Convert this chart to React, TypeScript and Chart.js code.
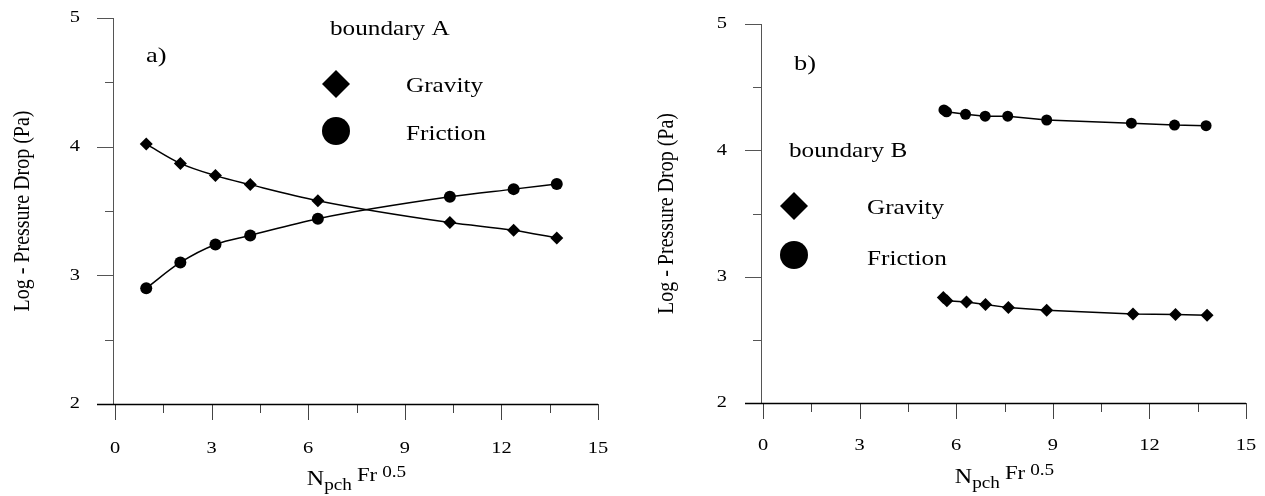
import React, { useEffect, useRef } from "react";
import { Chart, registerables } from "chart.js";

Chart.register(...registerables);

// ---- data ----
const xTickLabels = [0, 3, 6, 9, 12, 15];
const yTickLabels = [2, 3, 4, 5];

const aX = [0.97, 2.03, 3.12, 4.2, 6.3, 10.4, 12.38, 13.72];
const aGravity = [4.02, 3.87, 3.775, 3.705, 3.58, 3.41, 3.35, 3.29];
const aFriction = [2.9, 3.1, 3.24, 3.31, 3.44, 3.61, 3.67, 3.71];

const bFrictionX = [5.62, 5.7, 6.29, 6.9, 7.6, 8.81, 11.44, 12.78, 13.76];
const bFriction = [4.32, 4.305, 4.285, 4.27, 4.27, 4.24, 4.215, 4.2, 4.195];
const bGravityX = [5.6, 5.71, 6.32, 6.91, 7.62, 8.81, 11.49, 12.81, 13.79];
const bGravity = [2.835, 2.81, 2.8, 2.78, 2.755, 2.735, 2.705, 2.7, 2.695];

const yTitle = "Log - Pressure Drop (Pa)";

const FONT = '"Liberation Serif", "Times New Roman", serif';
const SX = 1.2; // horizontal text stretch seen in the reference

function pts(xs: number[], ys: number[]) {
  return xs.map((x, i) => ({ x, y: ys[i] }));
}

function textWidth(ctx: CanvasRenderingContext2D, text: string, size: number) {
  ctx.save();
  ctx.font = `${size}px ${FONT}`;
  const w = ctx.measureText(text).width * SX;
  ctx.restore();
  return w;
}

function drawText(
  ctx: CanvasRenderingContext2D,
  text: string,
  x: number,
  y: number,
  size: number,
  align: "left" | "center" | "right" = "left",
  baseline: CanvasTextBaseline = "alphabetic"
) {
  const w = textWidth(ctx, text, size);
  const x0 = align === "left" ? x : align === "center" ? x - w / 2 : x - w;
  ctx.save();
  ctx.font = `${size}px ${FONT}`;
  ctx.fillStyle = "#000";
  ctx.textAlign = "left";
  ctx.textBaseline = baseline;
  ctx.translate(x0, y);
  ctx.scale(SX, 1);
  ctx.fillText(text, 0, 0);
  ctx.restore();
  return w;
}

type Ann = {
  panel: string; panelX: number; panelY: number;
  title: string; titleX: number; titleY: number;
  symX: number; gravY: number; fricY: number; labX: number; gravTY: number; fricTY: number;
  titleBase: number; yLabGap: number; xLabDy: number; yTitleX: number;
};

function isMult(v: number, step: number) {
  const q = v / step;
  return Math.abs(q - Math.round(q)) < 1e-6;
}

function makePlugin(ann: Ann) {
  return {
    id: "decor",
    beforeDatasetsDraw(chart: any) {
      const { ctx, chartArea, scales } = chart;
      const { left, right, top, bottom } = chartArea;
      const x = scales.x, y = scales.y;
      const ax = left - 2;
      ctx.save();
      ctx.lineWidth = 1;
      ctx.strokeStyle = "#555";
      ctx.beginPath();
      ctx.moveTo(ax + 0.5, top);
      ctx.lineTo(ax + 0.5, bottom);
      ctx.stroke();
      y.ticks.forEach((t: any) => {
        const py = Math.round(y.getPixelForValue(t.value)) + 0.5;
        const len = isMult(t.value, 1) ? 16 : 8;
        ctx.beginPath();
        ctx.moveTo(ax - len, py);
        ctx.lineTo(ax + 0.5, py);
        ctx.stroke();
      });
      ctx.strokeStyle = "#444";
      x.ticks.forEach((t: any) => {
        const px = Math.round(x.getPixelForValue(t.value)) + 0.5;
        const len = isMult(t.value, 3) ? 16 : 9;
        ctx.beginPath();
        ctx.moveTo(px, bottom);
        ctx.lineTo(px, bottom + len);
        ctx.stroke();
      });
      ctx.strokeStyle = "#000";
      ctx.lineWidth = 1.3;
      ctx.beginPath();
      ctx.moveTo(ax - 16, Math.round(bottom) + 0.5);
      ctx.lineTo(right, Math.round(bottom) + 0.5);
      ctx.stroke();
      ctx.restore();

      // tick labels
      yTickLabels.forEach((v) => {
        drawText(ctx, String(v), ax - ann.yLabGap, y.getPixelForValue(v), 17, "right", "middle");
      });
      xTickLabels.forEach((v) => {
        drawText(ctx, String(v), x.getPixelForValue(v), bottom + ann.xLabDy, 17, "center", "middle");
      });

      // y axis title (rotated, stretched across its thickness)
      ctx.save();
      ctx.font = `20px ${FONT}`;
      ctx.fillStyle = "#000";
      ctx.textAlign = "center";
      ctx.textBaseline = "middle";
      ctx.translate(ann.yTitleX, (top + bottom) / 2);
      ctx.rotate(-Math.PI / 2);
      ctx.scale(1, SX);
      ctx.fillText(yTitle, 0, 0);
      ctx.restore();
    },
    afterDraw(chart: any) {
      const { ctx, chartArea } = chart;
      const { left, right, bottom } = chartArea;
      drawText(ctx, ann.panel, ann.panelX, ann.panelY, 22);
      drawText(ctx, ann.title, ann.titleX, ann.titleY, 21);
      // legend symbols
      ctx.save();
      ctx.fillStyle = "#000";
      ctx.beginPath();
      ctx.moveTo(ann.symX, ann.gravY - 14);
      ctx.lineTo(ann.symX + 14, ann.gravY);
      ctx.lineTo(ann.symX, ann.gravY + 14);
      ctx.lineTo(ann.symX - 14, ann.gravY);
      ctx.closePath();
      ctx.fill();
      ctx.beginPath();
      ctx.arc(ann.symX, ann.fricY, 14, 0, Math.PI * 2);
      ctx.fill();
      ctx.restore();
      drawText(ctx, "Gravity", ann.labX, ann.gravTY, 21);
      drawText(ctx, "Friction", ann.labX, ann.fricTY, 21);
      // x axis title: N_pch Fr^0.5
      const parts = [
        { t: "N", s: 20, dy: 0, gap: 0 },
        { t: "pch", s: 16, dy: 5, gap: 0 },
        { t: "Fr", s: 19, dy: -4, gap: 5 },
        { t: "0.5", s: 16, dy: -8, gap: 5 },
      ];
      let total = 0;
      parts.forEach((p) => (total += p.gap + textWidth(ctx, p.t, p.s)));
      let cx = (left + right) / 2 - total / 2;
      const base = bottom + ann.titleBase;
      parts.forEach((p) => {
        cx += p.gap;
        cx += drawText(ctx, p.t, cx, base + p.dy, p.s);
      });
    },
  };
}

function makeConfig(datasets: any[], ann: Ann, layout: { padTop: number; padRight: number; yWidth: number; xHeight: number }) {
  return {
    type: "line",
    data: { datasets },
    options: {
      animation: false,
      responsive: false,
      layout: { padding: { left: 0, top: layout.padTop, right: layout.padRight, bottom: 0 } },
      plugins: { legend: { display: false }, tooltip: { enabled: false } },
      scales: {
        x: {
          type: "linear",
          min: 0,
          max: 15,
          grid: { display: false, drawTicks: false },
          border: { display: false },
          ticks: { stepSize: 1.5, autoSkip: false, maxRotation: 0, display: false },
          afterFit: (s: any) => { s.height = layout.xHeight; },
        },
        y: {
          type: "linear",
          min: 2,
          max: 5,
          grid: { display: false, drawTicks: false },
          border: { display: false },
          ticks: { stepSize: 0.5, autoSkip: false, display: false },
          afterFit: (s: any) => { s.width = layout.yWidth; },
        },
      },
    },
    plugins: [makePlugin(ann)],
  };
}

function series(label: string, data: any[], style: string, r: number, smooth: boolean) {
  return {
    label,
    data,
    showLine: true,
    borderColor: "#000",
    borderWidth: 1.5,
    backgroundColor: "#000",
    pointBackgroundColor: "#000",
    pointBorderWidth: 0,
    pointStyle: style,
    pointRadius: r,
    cubicInterpolationMode: smooth ? "monotone" : "default",
    tension: smooth ? 0.4 : 0,
    clip: false,
  };
}

function Panel({ left, width, cfg }: { left: number; width: number; cfg: any }) {
  const ref = useRef<HTMLCanvasElement | null>(null);
  useEffect(() => {
    if (!ref.current) return;
    const chart = new Chart(ref.current, cfg);
    return () => chart.destroy();
  }, []);
  return (
    <canvas
      ref={ref}
      width={width}
      height={496}
      style={{ position: "absolute", left, top: 0, width, height: 496 }}
    />
  );
}

export default function App() {
  const cfgA = makeConfig(
    [
      series("Gravity", pts(aX, aGravity), "rectRot", 6.5, true),
      series("Friction", pts(aX, aFriction), "circle", 6, true),
    ],
    {
      panel: "a)", panelX: 146, panelY: 62,
      title: "boundary A", titleX: 330, titleY: 35,
      symX: 336, gravY: 84, fricY: 131, labX: 406, gravTY: 92, fricTY: 140,
      titleBase: 81, yLabGap: 33, xLabDy: 45, yTitleX: 22.5,
    },
    { padTop: 18, padRight: 34, yWidth: 115, xHeight: 92 }
  );
  const cfgB = makeConfig(
    [
      series("Gravity", pts(bGravityX, bGravity), "rectRot", 6.5, false),
      series("Friction", pts(bFrictionX, bFriction), "circle", 5.5, false),
    ],
    {
      panel: "b)", panelX: 162, panelY: 70,
      title: "boundary B", titleX: 157, titleY: 157,
      symX: 162, gravY: 206, fricY: 255, labX: 235, gravTY: 214, fricTY: 265,
      titleBase: 80, yLabGap: 34, xLabDy: 43, yTitleX: 35,
    },
    { padTop: 24, padRight: 19, yWidth: 131, xHeight: 93 }
  );
  return (
    <div style={{ position: "absolute", left: 0, top: 0, width: 1265, height: 496, background: "#fff" }}>
      <Panel left={0} width={632} cfg={cfgA} />
      <Panel left={632} width={633} cfg={cfgB} />
    </div>
  );
}
